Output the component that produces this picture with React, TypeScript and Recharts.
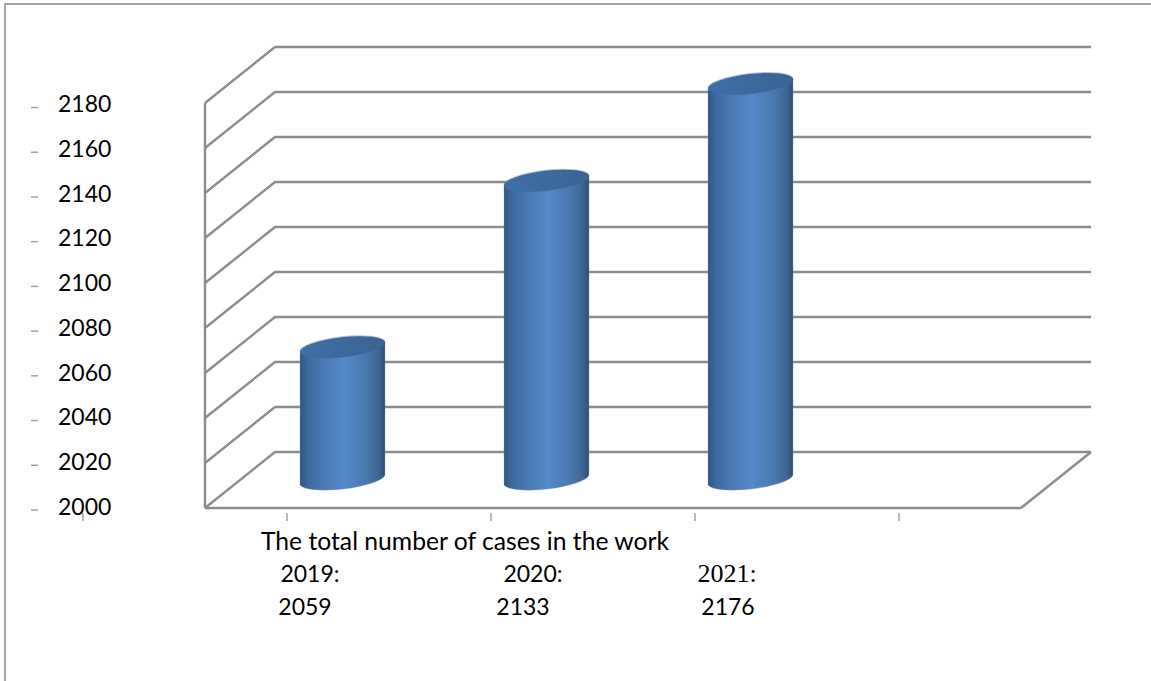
import { BarChart, Bar, XAxis, YAxis, CartesianGrid, Label } from 'recharts';

const years = ['2019', '2020', '2021', ''];
const cases = [2059, 2133, 2176, null];
const yAxisTicks = [2000, 2020, 2040, 2060, 2080, 2100, 2120, 2140, 2160, 2180];
const caption = 'The total number of cases in the work';

const chartData = years.map((year, i) => ({ year, cases: cases[i] }));

// pseudo-3D depth of the box: back wall sits up and to the right of the front plane
const DEPTH_X = 70;
const DEPTH_Y = 56;
const PLOT_RIGHT = 1021;
const FLOOR_Y = 508;

const GRID = '#8c8c8c';
const FONT = 'Lato, sans-serif';

// horizontal nudges for the hand-placed year and value labels under each category
const yearOffsets = [3, 22, 12, 0];
const valueOffsets = [-2, 12, 13, 0];

function WallLine({ x1, y1 }: any) {
  const backY = y1 - DEPTH_Y;
  const points = `${x1},${y1} ${x1 + DEPTH_X},${backY} ${PLOT_RIGHT + DEPTH_X},${backY}`;
  return (
    <g>
      <polyline points={points} fill="none" stroke={GRID} strokeWidth={2.4} />
      {Math.round(y1) === FLOOR_Y && (
        <line x1={PLOT_RIGHT} y1={y1} x2={PLOT_RIGHT + DEPTH_X} y2={backY} stroke={GRID} strokeWidth={2.4} />
      )}
    </g>
  );
}

function ValueTick({ y, payload }: any) {
  // the labels run a touch tighter than the gridlines
  const textY = y + 7 + (FLOOR_Y - y) / 200;
  const dashY = y + 2 + (FLOOR_Y - y) / 160;
  return (
    <g>
      <line x1={31} x2={38} y1={dashY} y2={dashY} stroke="#a0a0a0" strokeWidth={1.5} />
      <text x={58} y={textY} fontSize={23} fontFamily={FONT} fill="#000">
        {payload.value}
      </text>
    </g>
  );
}

function YearTick({ x, index, payload }: any) {
  const markX = x - 20;
  const isSerif = index === 2;
  return (
    <g>
      <line x1={markX} x2={markX} y1={513} y2={521} stroke="#a0a0a0" strokeWidth={1.5} />
      {index === 0 && <line x1={83} x2={83} y1={513} y2={521} stroke="#a0a0a0" strokeWidth={1.5} />}
      {cases[index] != null && (
        <>
          <text
            x={x + yearOffsets[index]}
            y={582}
            textAnchor="middle"
            fontSize={isSerif ? 26 : 23}
            fontFamily={isSerif ? 'Liberation Serif, serif' : FONT}
            fill="#000"
          >
            {`${payload.value}:`}
          </text>
          <text x={x + valueOffsets[index]} y={615} textAnchor="middle" fontSize={23} fontFamily={FONT} fill="#000">
            {cases[index]}
          </text>
        </>
      )}
    </g>
  );
}

// cylinder standing on the middle of the floor, half way into the depth of the box
function Cylinder({ x, y, width, height }: any) {
  if (!height) return null;
  const cx = x + width / 2 + DEPTH_X / 2;
  const top = y - DEPTH_Y / 2;
  const bottom = y + height - DEPTH_Y / 2;
  const half = width / 2;
  const tilt = 5;
  const body = `M${cx - half},${top + tilt} L${cx - half},${bottom + tilt} A${half + 0.5} 10 -6.6 0 0 ${cx + half},${bottom - tilt} L${cx + half},${top - tilt} Z`;
  return (
    <g>
      <ellipse cx={cx} cy={top - 1} rx={half + 0.5} ry={10} transform={`rotate(-6.6 ${cx} ${top})`} fill="#9a9a9a" opacity={0.6} />
      <path d={body} fill="url(#cylinderSide)" stroke="#8a97a6" strokeOpacity={0.35} strokeWidth={1} />
      <ellipse cx={cx} cy={top} rx={half + 0.5} ry={10} transform={`rotate(-6.6 ${cx} ${top})`} fill="url(#cylinderTop)" />
    </g>
  );
}

export default function App() {
  return (
    <div style={{ position: 'absolute', left: 0, top: 0, width: 1151, height: 681, overflow: 'hidden', background: '#fff' }}>
      <div style={{ position: 'absolute', left: 4, top: 3, right: 0, bottom: 0, borderTop: '2px solid #a6a6a6', borderLeft: '2px solid #a6a6a6' }} />
      <div style={{ position: 'absolute', left: 0, top: 0 }}>
        <BarChart width={1151} height={681} data={chartData} margin={{ top: 103, right: 130, bottom: 0, left: 0 }}>
          <defs>
            <linearGradient id="cylinderSide" x1="0" x2="1" y1="0" y2="0">
              <stop offset="0%" stopColor="#2e5785" />
              <stop offset="10%" stopColor="#3d6a9f" />
              <stop offset="30%" stopColor="#4b7bb6" />
              <stop offset="52%" stopColor="#5489ca" />
              <stop offset="78%" stopColor="#4a78ae" />
              <stop offset="92%" stopColor="#3f6794" />
              <stop offset="100%" stopColor="#2b4d75" />
            </linearGradient>
            <linearGradient id="cylinderTop" x1="0" x2="1" y1="0" y2="0">
              <stop offset="0%" stopColor="#3f6fa8" />
              <stop offset="100%" stopColor="#3a6394" />
            </linearGradient>
          </defs>
          <CartesianGrid vertical={false} horizontal={(props: any) => <WallLine key={props.key} {...props} />} />
          <XAxis
            dataKey="year"
            height={173}
            axisLine={{ stroke: GRID, strokeWidth: 2.4 }}
            tickLine={false}
            interval={0}
            tick={YearTick}
          >
            <Label value={caption} position="bottom" dx={-148} dy={-154} fontSize={24.7} fontFamily={FONT} fill="#000" />
          </XAxis>
          <YAxis
            width={205}
            domain={[2000, 2180]}
            ticks={yAxisTicks}
            interval={0}
            axisLine={{ stroke: GRID, strokeWidth: 2.4 }}
            tickLine={false}
            tick={ValueTick}
          />
          <Bar dataKey="cases" barSize={85} shape={Cylinder} isAnimationActive={false} />
        </BarChart>
      </div>
    </div>
  );
}
